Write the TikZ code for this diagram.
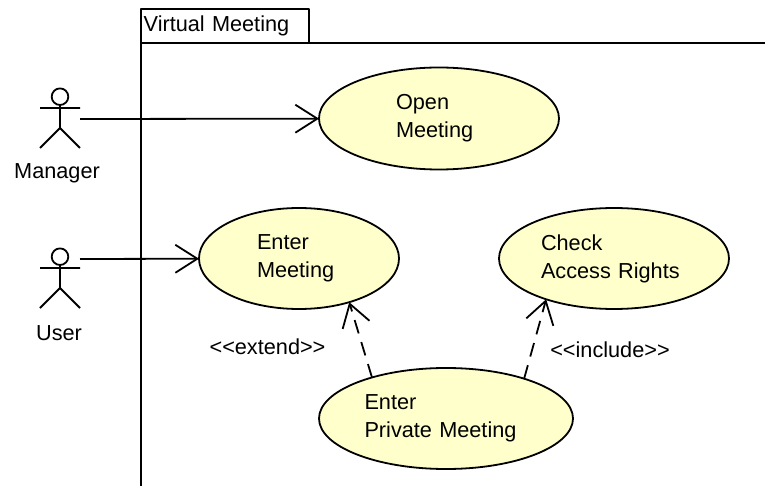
\documentclass[tikz,border=0pt]{standalone}
\usepackage{fontspec}
\setmainfont{Liberation Sans}
\usetikzlibrary{shapes.geometric,arrows.meta}
\tikzset{
	usecase/.style={draw,ellipse,fill=caseyellow,inner sep=0pt,outer sep=0pt,align=left},
	tab/.style={draw,rectangle,inner sep=0pt,outer sep=0pt,align=left},
	assoc/.style={-{Straight Barb[length=22pt,width=28pt]}},
	dep/.style={assoc,dash pattern=on 14pt off 9pt},
}
\definecolor{caseyellow}{HTML}{FFFFCC}
\begin{document}
\begin{tikzpicture}[scale=1, line join=round, line width=1.8pt, x=1pt, y=-1pt, font=\fontsize{21.7}{28}\selectfont]
	\useasboundingbox (0,0) rectangle (765,486);
	\def \xmax{765};
	\def \ymax{486};
	% boundary
	\node[tab,minimum width=168pt,minimum height=34pt,text width=162pt] (boundary) at (224.7,26.3) {Virtual Meeting};
	\draw (boundary.south west) -- (\xmax,43.3) (boundary.south west) -- (140.7,\ymax);
	% actors
	\foreach \y/\l/\px in {0/Manager/57,160/User/59}{
		\draw (60,\y+96.7) circle(8.3);
		\draw (40,\y+108) -- (80,\y+108) (60,\y+105) -- (60,\y+128) (40,\y+148) -- (60,\y+128) -- (80,\y+148);
		\node[inner sep=0pt] (label\l) at (\px,\y+173) {\l};
	}
	\coordinate (manager) at (80,119);
	\coordinate (user) at (80,259);
	% use cases
	\node[usecase,minimum width=240pt,minimum height=102pt,text width=86pt] (open) at (439,118.5) {Open\\Meeting};
	\node[usecase,minimum width=200pt,minimum height=101pt,text width=84pt] (enter) at (299,258.5) {Enter\\Meeting};
	\node[usecase,minimum width=230pt,minimum height=101pt,text width=146pt] (check) at (614,258.5) {Check\\Access Rights};
	\node[usecase,minimum width=254pt,minimum height=101pt,text width=163pt] (private) at (446,418.5) {Enter\\Private Meeting};
	% connectors
	\draw[assoc] (manager) -- (open);
	\draw[assoc] (user) -- (enter);
	\draw[dep] (private.151) -- (enter.-41);
	\draw[dep] (private.27.4) -- (check.211.9);
	\node[inner sep=0pt] (extend) at (267.5,347) {{<}{<}extend{>}{>}};
	\node[inner sep=0pt] (include) at (610,350) {{<}{<}include{>}{>}};
\end{tikzpicture}
\end{document}
